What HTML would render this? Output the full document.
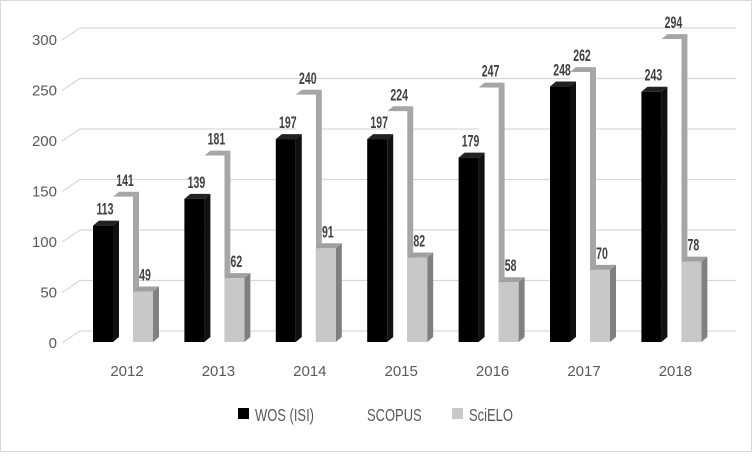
<!DOCTYPE html>
<html><head><meta charset="utf-8"><style>
body{margin:0;background:#fff}
svg text{font-family:"Liberation Sans",sans-serif}
</style></head><body>
<svg id="c" width="752" height="452" xmlns="http://www.w3.org/2000/svg">
<rect x="0.5" y="0.5" width="751" height="451" fill="#fff" stroke="#d9d9d9"/>
<g id="grid"></g><g id="bars"></g><g id="labels"></g>
<g>
<rect x="238" y="408" width="11" height="11" fill="#000"/>
<text x="255" y="421" font-size="18" fill="#595959" transform="translate(255 0) scale(0.72 1) translate(-255 0)">WOS (ISI)</text>
<text x="367" y="421" font-size="18" fill="#595959" transform="translate(367 0) scale(0.72 1) translate(-367 0)">SCOPUS</text>
<rect x="452" y="408" width="11" height="11" fill="#c8c8c8"/>
<text x="469" y="421" font-size="18" fill="#595959" transform="translate(469 0) scale(0.72 1) translate(-469 0)">SciELO</text>
</g>
</svg>
<script>
const years=["2012","2013","2014","2015","2016","2017","2018"];
const wos=[113,139,197,197,179,248,243];
const scopus=[141,181,240,224,247,262,294];
const scielo=[49,62,91,82,58,70,78];
const yTicks=[0,50,100,150,200,250,300];
const NS="http://www.w3.org/2000/svg";
const base=342,k=1.03,dx=6,dy=-5,bw=20,x0=93,step=91.4;
const y=v=>base-v*k;
function mk(t,a,p){const e=document.createElementNS(NS,t);for(const q in a)e.setAttribute(q,a[q]);p.appendChild(e);return e;}
const G=document.getElementById('grid'),B=document.getElementById('bars'),L=document.getElementById('labels');
yTicks.forEach(v=>{
 const yy=base+1-v*1.01;
 const l=mk('polyline',{points:`62,${yy} 80,${yy-12} 736,${yy-12}`,fill:'none',stroke:'#d9d9d9','stroke-width':1.3},G);
 
 const t=mk('text',{x:57,y:yy+5,'font-size':15,fill:'#595959','text-anchor':'end'},G);
 t.textContent=v;
});
function bar(x,v,front,top,side,name,lab){
 const g=mk('g',{},B);
 const yt=y(v);
 mk('polygon',{points:`${x+bw},${yt} ${x+bw+dx},${yt+dy} ${x+bw+dx},${base+dy} ${x+bw},${base}`,fill:side},g);
 mk('polygon',{points:`${x},${yt} ${x+dx},${yt+dy} ${x+bw+dx},${yt+dy} ${x+bw},${yt}`,fill:top},g);
 mk('rect',{x:x,y:yt,width:bw,height:base-yt,fill:front},g);
 const t=mk('text',{x:x+bw/2+2,y:yt-11,'font-size':17,'font-weight':'bold',fill:'#404040','text-anchor':'middle',transform:`translate(${x+bw/2+2} 0) scale(0.62 1) translate(${-(x+bw/2+2)} 0)`},L);
 t.textContent=v;
}
years.forEach((yr,i)=>{
 const x=x0+i*step;
 bar(x+bw,scopus[i],'#fff','#a6a6a6','#a6a6a6','bar-scopus-'+yr,'label-scopus-'+yr);
 bar(x,wos[i],'#000','#222','#111','bar-wos-'+yr,'label-wos-'+yr);
 bar(x+2*bw,scielo[i],'#c8c8c8','#a0a0a0','#808080','bar-scielo-'+yr,'label-scielo-'+yr);
 const t=mk('text',{x:x+bw*1.5+4,y:376,'font-size':15,fill:'#595959','text-anchor':'middle'},L);
 t.textContent=yr;
});
</script>
</body></html>
